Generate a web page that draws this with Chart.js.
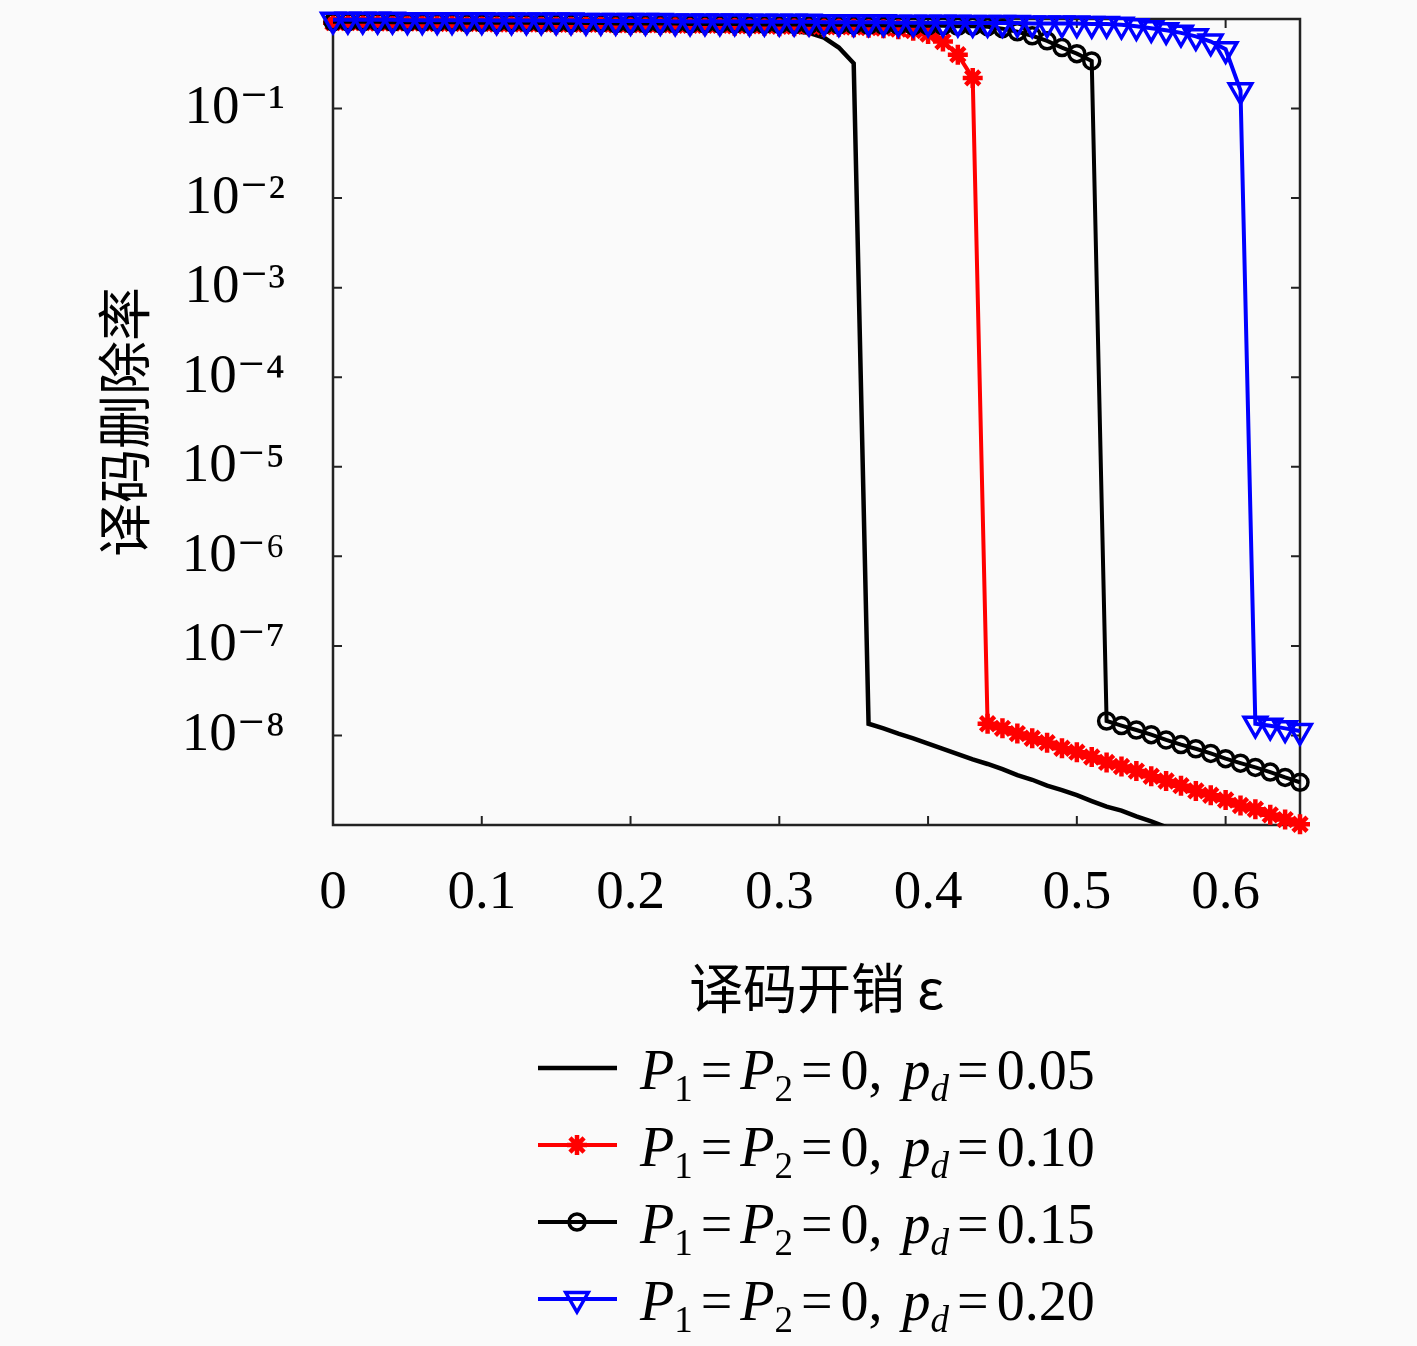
<!DOCTYPE html>
<html>
<head>
<meta charset="utf-8">
<title>译码删除率</title>
<script src="https://cdn.jsdelivr.net/npm/chart.js@4.4.1/dist/chart.umd.min.js"></script>
<style>
  html, body { margin: 0; padding: 0; background: #fafafa; }
  #wrap { width: 1417px; height: 1346px; }
</style>
</head>
<body>
<div id="wrap"><canvas id="erasureChart" width="1417" height="1346"></canvas></div>
<script>
// 译码开销 ε (x 轴取值)
const overhead = [
    0.00, 0.01, 0.02, 0.03, 0.04, 0.05, 0.06, 0.07, 0.08, 0.09,
    0.10, 0.11, 0.12, 0.13, 0.14, 0.15, 0.16, 0.17, 0.18, 0.19,
    0.20, 0.21, 0.22, 0.23, 0.24, 0.25, 0.26, 0.27, 0.28, 0.29,
    0.30, 0.31, 0.32, 0.33, 0.34, 0.35, 0.36, 0.37, 0.38, 0.39,
    0.40, 0.41, 0.42, 0.43, 0.44, 0.45, 0.46, 0.47, 0.48, 0.49,
    0.50, 0.51, 0.52, 0.53, 0.54, 0.55, 0.56, 0.57, 0.58, 0.59,
    0.60, 0.61, 0.62, 0.63, 0.64, 0.65
];
const xTicks = [0, 0.1, 0.2, 0.3, 0.4, 0.5, 0.6];
const yTicks = [1e-1, 1e-2, 1e-3, 1e-4, 1e-5, 1e-6, 1e-7, 1e-8];
const pdLabels = ['0.05', '0.10', '0.15', '0.20'];

// 译码删除率, p_d = 0.05 (ε = 0 ... 0.57)
const rate005 = [
    0.87, 0.87, 0.86, 0.86, 0.86, 0.85, 0.85, 0.85, 0.84, 0.84,
    0.84, 0.83, 0.83, 0.83, 0.82, 0.82, 0.82, 0.81, 0.81, 0.81,
    0.80, 0.80, 0.80, 0.79, 0.79, 0.78, 0.78, 0.77, 0.77, 0.76,
    0.75, 0.73, 0.70, 0.62, 0.48, 0.32,
    1.35e-8, 1.2e-8, 1.05e-8, 9.3e-9, 8.1e-9, 7.1e-9, 6.2e-9, 5.4e-9, 4.8e-9, 4.2e-9,
    3.6e-9, 3.2e-9, 2.75e-9, 2.45e-9, 2.15e-9, 1.85e-9, 1.6e-9, 1.45e-9, 1.25e-9, 1.1e-9,
    9.5e-10, 8.3e-10
];
// p_d = 0.10
const rate010 = [
    0.91, 0.91, 0.91, 0.90, 0.90, 0.90, 0.90, 0.89, 0.89, 0.89,
    0.89, 0.88, 0.88, 0.88, 0.88, 0.87, 0.87, 0.87, 0.87, 0.86,
    0.86, 0.86, 0.86, 0.85, 0.85, 0.85, 0.85, 0.84, 0.84, 0.84,
    0.83, 0.83, 0.83, 0.82, 0.82, 0.81, 0.80, 0.79, 0.77,
    0.74, 0.68, 0.56, 0.40, 0.22,
    1.35e-8, 1.2e-8, 1.05e-8, 9.3e-9, 8.3e-9, 7.2e-9, 6.5e-9, 5.75e-9, 5.0e-9, 4.5e-9,
    4.0e-9, 3.5e-9, 3.1e-9, 2.75e-9, 2.4e-9, 2.15e-9, 1.9e-9, 1.65e-9, 1.5e-9, 1.3e-9,
    1.15e-9, 1.02e-9
];
// p_d = 0.15
const rate015 = [
    0.93, 0.93, 0.93, 0.93, 0.92, 0.92, 0.92, 0.92, 0.92, 0.91,
    0.91, 0.91, 0.91, 0.91, 0.90, 0.90, 0.90, 0.90, 0.90, 0.89,
    0.89, 0.89, 0.89, 0.89, 0.88, 0.88, 0.88, 0.88, 0.87, 0.87,
    0.87, 0.87, 0.86, 0.86, 0.86, 0.86, 0.85, 0.85, 0.85, 0.84,
    0.84, 0.84, 0.83, 0.83, 0.82,
    0.78, 0.72, 0.65, 0.57, 0.48, 0.41, 0.34,
    1.45e-8, 1.29e-8, 1.15e-8, 1.02e-8, 8.9e-9, 7.9e-9, 7.1e-9, 6.3e-9, 5.5e-9, 4.9e-9,
    4.4e-9, 3.9e-9, 3.4e-9, 3.0e-9
];
// p_d = 0.20
const rate020 = [
    0.98, 0.98, 0.98, 0.98, 0.98, 0.97, 0.97, 0.97, 0.97, 0.97,
    0.97, 0.96, 0.96, 0.96, 0.96, 0.96, 0.96, 0.95, 0.95, 0.95,
    0.95, 0.95, 0.95, 0.94, 0.94, 0.94, 0.94, 0.94, 0.93, 0.93,
    0.93, 0.93, 0.93, 0.92, 0.92, 0.92, 0.92, 0.92, 0.91, 0.91,
    0.91, 0.91, 0.91, 0.90, 0.90, 0.90, 0.90, 0.89, 0.89, 0.89,
    0.89, 0.88, 0.88,
    0.86, 0.83, 0.79, 0.75, 0.70, 0.64, 0.56, 0.46, 0.16,
    1.35e-8, 1.28e-8, 1.2e-8, 1.12e-8
];

const SERIF = '"Liberation Serif", "DejaVu Serif", serif';
const CJK = '"Noto Sans CJK SC", "Liberation Serif", sans-serif';
const SUP = { '-': '⁻', '0': '⁰', '1': '¹', '2': '²', '3': '³', '4': '⁴', '5': '⁵', '6': '⁶', '7': '⁷', '8': '⁸', '9': '⁹' };

function toPoints(values) {
    return values.map((v, i) => ({ x: overhead[i], y: v }));
}

// 坐标框和朝内的刻度线
const framePlugin = {
    id: 'frame',
    beforeDraw(chart) {
        const ctx = chart.ctx;
        ctx.save();
        ctx.fillStyle = '#fafafa';
        ctx.fillRect(0, 0, chart.width, chart.height);
        ctx.restore();
    },
    beforeDatasetsDraw(chart) {
        const { ctx, chartArea: a, scales } = chart;
        ctx.save();
        ctx.strokeStyle = '#222';
        ctx.lineWidth = 2.5;
        ctx.strokeRect(a.left, a.top, a.right - a.left, a.bottom - a.top);
        ctx.lineWidth = 2;
        ctx.beginPath();
        scales.y.ticks.forEach(t => {
            const py = scales.y.getPixelForValue(t.value);
            ctx.moveTo(a.left, py); ctx.lineTo(a.left + 9, py);
            ctx.moveTo(a.right, py); ctx.lineTo(a.right - 9, py);
        });
        scales.x.ticks.forEach(t => {
            const px = scales.x.getPixelForValue(t.value);
            ctx.moveTo(px, a.bottom); ctx.lineTo(px, a.bottom - 9);
            ctx.moveTo(px, a.top); ctx.lineTo(px, a.top + 9);
        });
        ctx.stroke();
        ctx.restore();
    }
};

// 图例: P1=P2=0, pd=...
function drawRich(ctx, parts, x, baseY) {
    parts.forEach(p => {
        const size = p.sub ? 37 : 56;
        ctx.font = (p.it ? 'italic ' : '') + size + 'px ' + SERIF;
        x += p.pre || 0;
        ctx.fillText(p.t, x, baseY + (p.sub ? 12 : 0));
        x += ctx.measureText(p.t).width + (p.post || 0);
    });
}

const legendPlugin = {
    id: 'mathLegend',
    afterDraw(chart) {
        const ctx = chart.ctx;
        const rowY = [1068, 1145, 1222, 1299];
        chart.data.datasets.forEach((ds, i) => {
            const y = rowY[i];
            ctx.save();
            ctx.strokeStyle = ds.borderColor;
            ctx.lineWidth = ds.borderWidth;
            ctx.beginPath();
            ctx.moveTo(538, y);
            ctx.lineTo(617, y);
            ctx.stroke();
            if (ds.pointRadius > 0 && Chart.helpers && Chart.helpers.drawPoint) {
                ctx.fillStyle = ds.pointBackgroundColor;
                ctx.strokeStyle = ds.pointBorderColor;
                ctx.lineWidth = ds.pointBorderWidth;
                Chart.helpers.drawPoint(ctx, {
                    pointStyle: ds.pointStyle,
                    radius: ds.pointRadius,
                    rotation: ds.pointRotation || 0,
                    borderWidth: ds.pointBorderWidth
                }, 577, y);
            }
            ctx.fillStyle = '#000';
            ctx.textBaseline = 'alphabetic';
            ctx.textAlign = 'left';
            drawRich(ctx, [
                { t: 'P', it: true },
                { t: '1', sub: true },
                { t: '=', pre: 8, post: 8 },
                { t: 'P', it: true },
                { t: '2', sub: true },
                { t: '=', pre: 8, post: 8 },
                { t: '0,', post: 20 },
                { t: 'p', it: true },
                { t: 'd', it: true, sub: true },
                { t: '=', pre: 8, post: 8 },
                { t: pdLabels[i] }
            ], 640, y + 21);
            ctx.restore();
        });
    }
};

const erasureChart = new Chart(document.getElementById('erasureChart'), {
    type: 'line',
    data: {
        datasets: [
            {
                label: 'P1=P2=0, pd=' + pdLabels[0],
                data: toPoints(rate005),
                borderColor: '#000000',
                borderWidth: 4.5,
                pointRadius: 0,
                order: 3,
                clip: { left: 5, top: 20, right: 5, bottom: 0 }
            },
            {
                label: 'P1=P2=0, pd=' + pdLabels[1],
                data: toPoints(rate010),
                borderColor: '#ff0000',
                borderWidth: 4,
                pointStyle: 'star',
                pointRadius: 10,
                pointBorderWidth: 4.5,
                pointBorderColor: '#ff0000',
                pointBackgroundColor: '#ff0000',
                order: 2,
                clip: 20
            },
            {
                label: 'P1=P2=0, pd=' + pdLabels[2],
                data: toPoints(rate015),
                borderColor: '#000000',
                borderWidth: 4,
                pointStyle: 'circle',
                pointRadius: 8,
                pointBorderWidth: 3.5,
                pointBorderColor: '#000000',
                pointBackgroundColor: 'rgba(0,0,0,0)',
                order: 1,
                clip: 20
            },
            {
                label: 'P1=P2=0, pd=' + pdLabels[3],
                data: toPoints(rate020),
                borderColor: '#0000ff',
                borderWidth: 4,
                pointStyle: 'triangle',
                pointRotation: 180,
                pointRadius: 13,
                pointBorderWidth: 3.5,
                pointBorderColor: '#0000ff',
                pointBackgroundColor: 'rgba(0,0,0,0)',
                order: 0,
                clip: 20
            }
        ]
    },
    options: {
        responsive: false,
        animation: false,
        events: [],
        layout: { autoPadding: false, padding: { top: 19, right: 117, bottom: 321, left: 0 } },
        plugins: {
            legend: { display: false },
            tooltip: { enabled: false }
        },
        elements: { line: { tension: 0 } },
        scales: {
            x: {
                type: 'linear',
                min: 0,
                max: 0.65,
                grid: { display: false, drawTicks: false },
                border: { display: false },
                afterBuildTicks: scale => { scale.ticks = xTicks.map(v => ({ value: v })); },
                afterFit: scale => {
                    scale.height = 200;
                    scale.paddingLeft = 0;
                    scale.paddingRight = 0;
                },
                ticks: {
                    color: '#000',
                    padding: 36,
                    maxRotation: 0,
                    font: { family: SERIF, size: 55 },
                    callback: v => String(v)
                },
                title: {
                    display: true,
                    text: '译码开销 ε',
                    color: '#000',
                    font: { family: CJK, size: 54 },
                    padding: { top: 0, bottom: 4 }
                }
            },
            y: {
                type: 'logarithmic',
                min: 1e-9,
                max: 1,
                grid: { display: false, drawTicks: false },
                border: { display: false },
                afterBuildTicks: scale => { scale.ticks = yTicks.map(v => ({ value: v })); },
                afterFit: scale => {
                    scale.width = 333;
                    scale.paddingTop = 0;
                    scale.paddingBottom = 0;
                },
                ticks: {
                    color: '#000',
                    padding: 48,
                    font: { family: SERIF, size: 55 },
                    callback: v => {
                        const e = String(Math.round(Math.log10(v)));
                        return '10' + e.split('').map(c => SUP[c]).join('');
                    }
                },
                title: {
                    display: true,
                    text: '译码删除率',
                    color: '#000',
                    font: { family: CJK, size: 54 },
                    padding: { top: 92, bottom: 0 }
                }
            }
        }
    },
    plugins: [framePlugin, legendPlugin]
});
</script>
</body>
</html>
